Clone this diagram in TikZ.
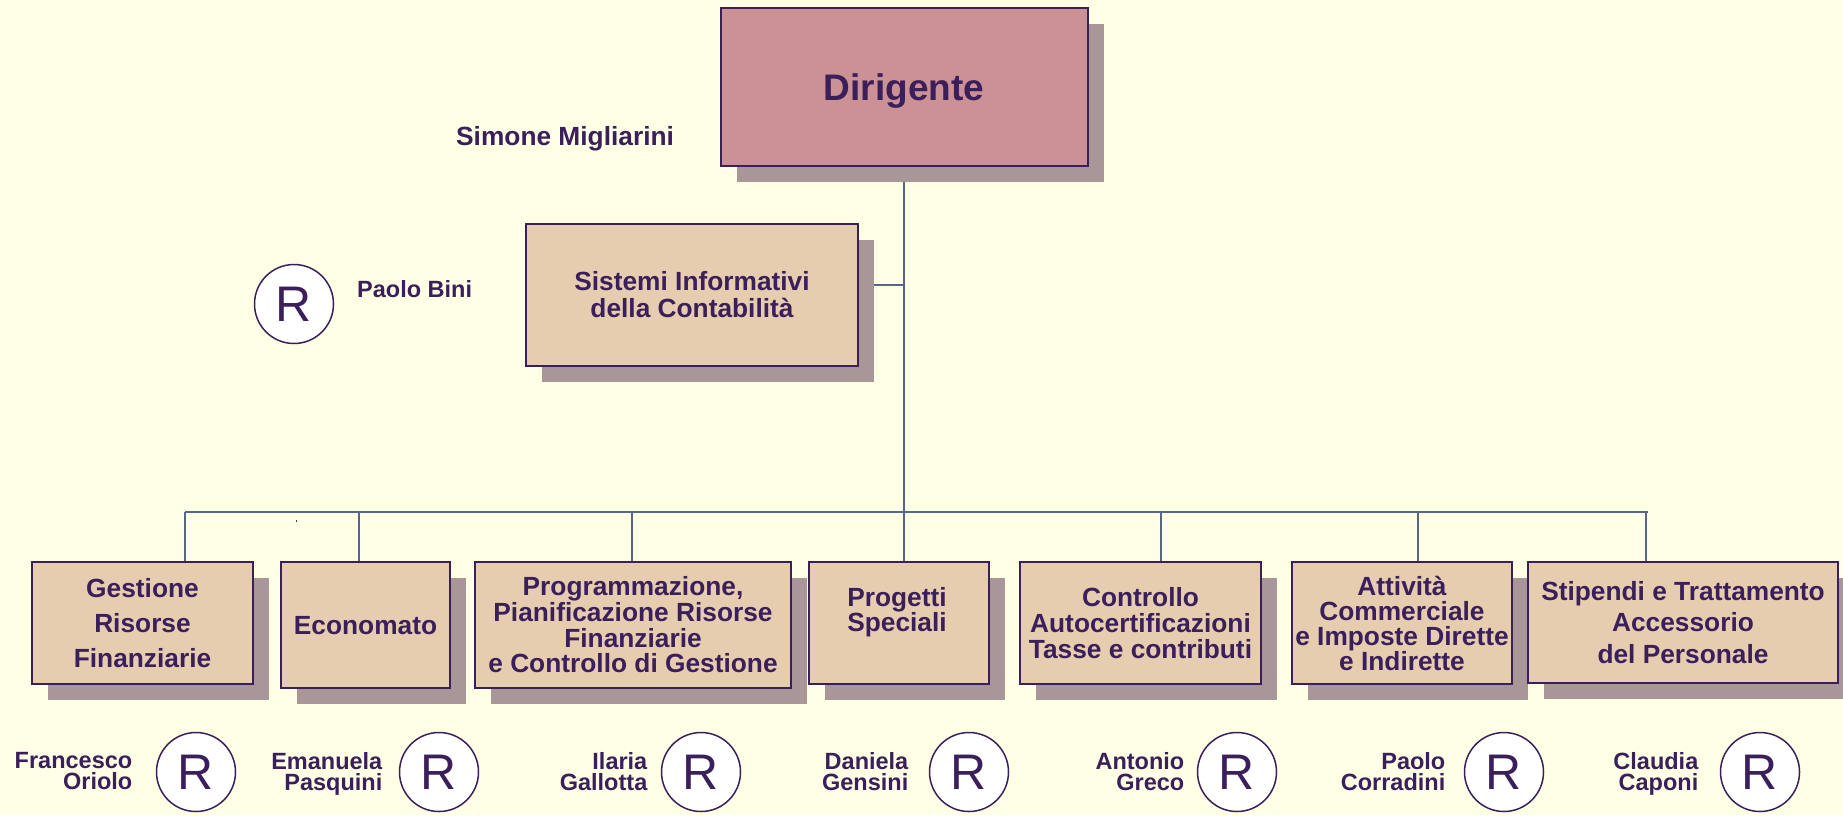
\documentclass[tikz,border=0pt]{standalone}
\usepackage{fontspec}
\setmainfont{Liberation Sans}
\usetikzlibrary{shadows}
\definecolor{bgc}{HTML}{FFFFE6}
\definecolor{tanc}{HTML}{E6CDAF}
\definecolor{pinkc}{HTML}{CC9194}
\definecolor{shadc}{HTML}{A89699}
\definecolor{txtc}{HTML}{3B1F5A}
\definecolor{linec}{HTML}{56658F}
\definecolor{strayc}{HTML}{1E5A3C}
\pgfdeclarelayer{bglayer}
\pgfdeclarelayer{connlayer}
\pgfsetlayers{bglayer,connlayer,main}
\begin{document}
\begin{tikzpicture}[x=1pt,y=-1pt,
  unitbox/.style={draw=txtc,line width=2pt,fill=tanc,inner sep=0pt,align=center,text=txtc,
    drop shadow={shadow xshift=16pt,shadow yshift=-16pt,fill=shadc,opacity=1}},
  boxtext/.style={font=\fontsize{26.3}{#1}\selectfont\bfseries,text=txtc,align=center,inner sep=0pt},
  person/.style={font=\fontsize{23.5}{21}\selectfont\bfseries,text=txtc,align=right,inner sep=0pt,anchor=north east},
  rmark/.style={circle,draw=txtc,line width=1.5pt,fill=white,minimum size=79pt,inner sep=0pt,text=txtc,font=\fontsize{50}{50}\selectfont,text depth=0pt},
  conn/.style={draw=linec,line width=1.3pt},
  busline/.style={draw=linec,line width=1.8pt}]
\useasboundingbox (0,0) rectangle (1843,815);
\begin{pgfonlayer}{bglayer}
\fill[bgc] (0,0) rectangle (1843,815);
\end{pgfonlayer}

% top
\node[unitbox,fill=pinkc,minimum width=367pt,minimum height=158pt,font=\fontsize{37}{40}\selectfont\bfseries,text depth=0pt] (dir) at (904,87) {Dirigente};
\node[font=\fontsize{26.3}{27}\selectfont\bfseries,text=txtc,inner sep=0pt,anchor=base west] (simone) at (456,145) {Simone Migliarini};

\node[unitbox,minimum width=332pt,minimum height=142pt,boxtext=27] (sis) at (692,295) {Sistemi Informativi\\della Contabilità};
\node[rmark] (rbini) at (294,304) {R};
\node[font=\fontsize{23.5}{24}\selectfont\bfseries,text=txtc,inner sep=0pt,anchor=base west] (bini) at (357,297) {Paolo Bini};

% bottom boxes
\node[unitbox,minimum width=221pt,minimum height=122pt,boxtext=35] (gest) at (142.5,623) {Gestione\\Risorse\\Finanziarie};
\node[unitbox,minimum width=169pt,minimum height=126pt,boxtext=27,text depth=0pt] (eco) at (365.5,625) {Economato};
\node[unitbox,minimum width=316pt,minimum height=126pt,boxtext=25.7] (pia) at (633,625) {Programmazione,\\Pianificazione Risorse\\Finanziarie\\e Controllo di Gestione};
\node[unitbox,minimum width=180pt,minimum height=122pt] (prog) at (899,623) {};
\node[boxtext=25] (progt) at (897,612) {Progetti\\Speciali};
\node[unitbox,minimum width=241pt,minimum height=122pt,boxtext=26] (ctrl) at (1140.5,623) {Controllo\\Autocertificazioni\\Tasse e contributi};
\node[unitbox,minimum width=220pt,minimum height=122pt,boxtext=25] (att) at (1402,623) {Attività\\Commerciale\\e Imposte Dirette\\e Indirette};
\node[unitbox,minimum width=310pt,minimum height=121pt,boxtext=31.5] (stip) at (1683,622.5) {Stipendi e Trattamento\\Accessorio\\del Personale};

% connectors
\coordinate (bus) at (904,512);
\coordinate (sisj) at (904,285);
\coordinate (jg) at (185,512);
\coordinate (je) at (359,512);
\coordinate (jp) at (632,512);
\coordinate (jc) at (1161,512);
\coordinate (ja) at (1418,512);
\coordinate (js) at (1646,512);
\coordinate (busr) at (1648,512);
\begin{pgfonlayer}{connlayer}
\draw[busline] (jg) -- (busr);
\draw[conn] (dir.south) -- (bus |- prog.north);
\draw[conn] (sisj) -- (sisj -| sis.east);
\draw[conn] (jg) -- (jg |- gest.north);
\draw[conn] (je) -- (je |- eco.north);
\draw[conn] (jp) -- (jp |- pia.north);
\draw[conn] (jc) -- (jc |- ctrl.north);
\draw[conn] (ja) -- (ja |- att.north);
\draw[conn] (js) -- (js |- stip.north);
\end{pgfonlayer}
\fill[strayc] (295.5,520) rectangle (296.5,522);

% responsabili
\node[person] (p1) at (132.5,752.5) {Francesco\\Oriolo};
\node[rmark] (r1) at (196,772) {R};
\node[person] (p2) at (382.5,752.5) {Emanuela\\Pasquini};
\node[rmark] (r2) at (439,772) {R};
\node[person] (p3) at (647.5,752.5) {Ilaria\\Gallotta};
\node[rmark] (r3) at (701,772) {R};
\node[person] (p4) at (908.5,752.5) {Daniela\\Gensini};
\node[rmark] (r4) at (969,772) {R};
\node[person] (p5) at (1184.5,752.5) {Antonio\\Greco};
\node[rmark] (r5) at (1237,772) {R};
\node[person] (p6) at (1445.5,752.5) {Paolo\\Corradini};
\node[rmark] (r6) at (1504,772) {R};
\node[person] (p7) at (1698.5,752.5) {Claudia\\Caponi};
\node[rmark] (r7) at (1760,772) {R};
\end{tikzpicture}
\end{document}
